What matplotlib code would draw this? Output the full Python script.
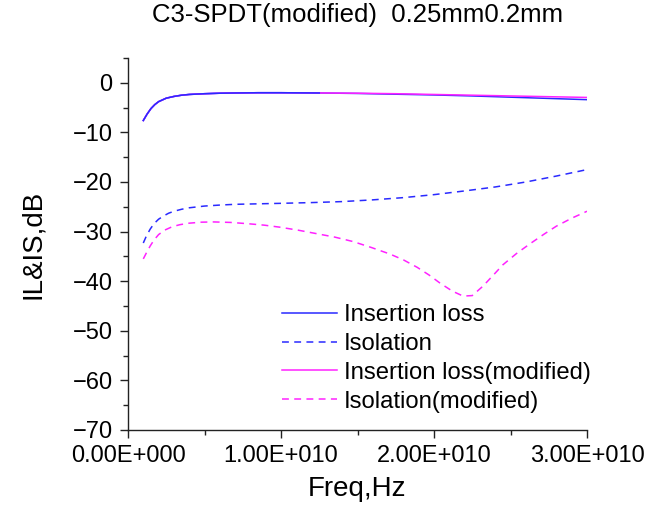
import matplotlib
matplotlib.use("Agg")
import matplotlib.pyplot as plt
from matplotlib.ticker import MultipleLocator, FuncFormatter

plt.rcParams['font.family'] = ['Liberation Sans', 'DejaVu Sans']

# Insertion loss (Hz, dB)
il_freq = [1e9, 1.25e9, 1.5e9, 1.75e9, 2e9, 2.5e9, 3e9, 3.5e9, 4e9, 5e9, 6e9,
           7e9, 8.5e9, 1e10, 1.25e10, 1.5e10, 1.75e10, 2e10, 2.25e10, 2.5e10,
           2.75e10, 3e10]
il = [-7.6, -6.3, -5.2, -4.4, -3.8, -3.1, -2.75, -2.5, -2.35, -2.2, -2.1,
      -2.05, -2.0, -2.0, -2.05, -2.15, -2.3, -2.45, -2.65, -2.9, -3.15, -3.4]
il_mod = [-7.6, -6.3, -5.2, -4.4, -3.8, -3.1, -2.75, -2.5, -2.35, -2.2, -2.1,
          -2.05, -2.0, -2.0, -2.05, -2.1, -2.2, -2.35, -2.5, -2.65, -2.8, -2.95]

# Isolation (Hz, dB)
iso_freq = [1e9, 1.2e9, 1.45e9, 1.7e9, 2e9, 2.3e9, 2.65e9, 3e9, 3.5e9, 4e9,
            5e9, 6e9, 7e9, 8.5e9, 1e10, 1.2e10, 1.4e10, 1.6e10, 1.8e10, 2e10,
            2.2e10, 2.4e10, 2.6e10, 2.8e10, 3e10]
iso = [-32.3, -30.9, -29.5, -28.4, -27.5, -26.9, -26.3, -25.9, -25.5, -25.2,
       -24.85, -24.65, -24.5, -24.4, -24.3, -24.15, -23.95, -23.6, -23.15,
       -22.55, -21.8, -21.0, -20.0, -18.8, -17.5]

iso_mod_freq = [1e9, 1.2e9, 1.45e9, 1.7e9, 2e9, 2.4e9, 2.9e9, 3.4e9, 4e9,
                4.8e9, 5.6e9, 6.7e9, 7.8e9, 8.9e9, 9.9e9, 1.11e10, 1.23e10,
                1.35e10, 1.47e10, 1.59e10, 1.71e10, 1.8e10, 1.89e10, 1.97e10,
                2.04e10, 2.12e10, 2.19e10, 2.25e10, 2.32e10, 2.39e10, 2.45e10,
                2.54e10, 2.63e10, 2.72e10, 2.8e10, 2.9e10, 3e10]
iso_mod = [-35.5, -34.3, -32.9, -31.7, -30.6, -29.7, -29.0, -28.6, -28.3,
           -28.1, -28.05, -28.15, -28.4, -28.7, -29.1, -29.7, -30.4, -31.1,
           -32.0, -33.2, -34.5, -35.7, -37.2, -38.8, -40.4, -42.0, -43.0,
           -42.9, -41.0, -38.7, -36.7, -34.4, -32.4, -30.5, -28.9, -27.3,
           -25.9]

x_ticks = [0, 1e10, 2e10, 3e10]

blue = '#2a2aff'
magenta = '#ff22ff'

fig = plt.figure(figsize=(6.68, 5.12), dpi=100)
ax = fig.add_axes([128 / 668, 1 - 430 / 512, (587 - 128) / 668, (430 - 58) / 512])

lw = 1.1
dash = (0, (4.5, 3.5))
ax.plot(il_freq, il, color=blue, lw=lw, label='Insertion loss')
ax.plot(iso_freq, iso, color=blue, lw=lw, ls=dash, label='Isolation')
ax.plot(il_freq, il_mod, color=magenta, lw=lw, label='Insertion loss(modified)')
ax.plot(iso_mod_freq, iso_mod, color=magenta, lw=lw, ls=dash,
        label='Isolation(modified)')
# blue insertion loss drawn on top where the two overlap
ax.plot(il_freq[:15], il[:15], color=blue, lw=lw)

ax.set_xlim(0, 3e10)
ax.set_ylim(-70, 5)
ax.set_xticks(x_ticks)
ax.xaxis.set_minor_locator(MultipleLocator(5e9))
ax.yaxis.set_major_locator(MultipleLocator(10))
ax.yaxis.set_minor_locator(MultipleLocator(5))


def sci(v, pos=None):
    if v == 0:
        return '0.00E+000'
    e = 0
    m = abs(v)
    while m >= 10:
        m /= 10
        e += 1
    return f"{v / 10 ** e:.2f}E+{e:03d}"


ax.xaxis.set_major_formatter(FuncFormatter(sci))

for s in ('top', 'right'):
    ax.spines[s].set_visible(False)
for s in ('left', 'bottom'):
    ax.spines[s].set_linewidth(1.0)
    ax.spines[s].set_color('#222222')

ax.tick_params(which='major', direction='out', length=6, width=1.0,
               labelsize=17, pad=5, color='#222222')
ax.tick_params(which='minor', direction='out', length=3.5, width=1.0,
               color='#222222')

ax.set_xlabel('Freq,Hz', fontsize=20, labelpad=6)
ax.set_ylabel('IL&IS,dB', fontsize=20, labelpad=19)
ax.set_title('C3-SPDT(modified)  0.25mm0.2mm', fontsize=18.5, pad=26)

ax.legend(loc='upper left', bbox_to_anchor=(282 / 668, 1 - 304 / 512),
          bbox_transform=fig.transFigure, frameon=False, fontsize=17.2,
          borderpad=0, borderaxespad=0, handlelength=2.3, handletextpad=0.3,
          labelspacing=0.29)

fig.savefig('out.png', dpi=100, facecolor='white')
